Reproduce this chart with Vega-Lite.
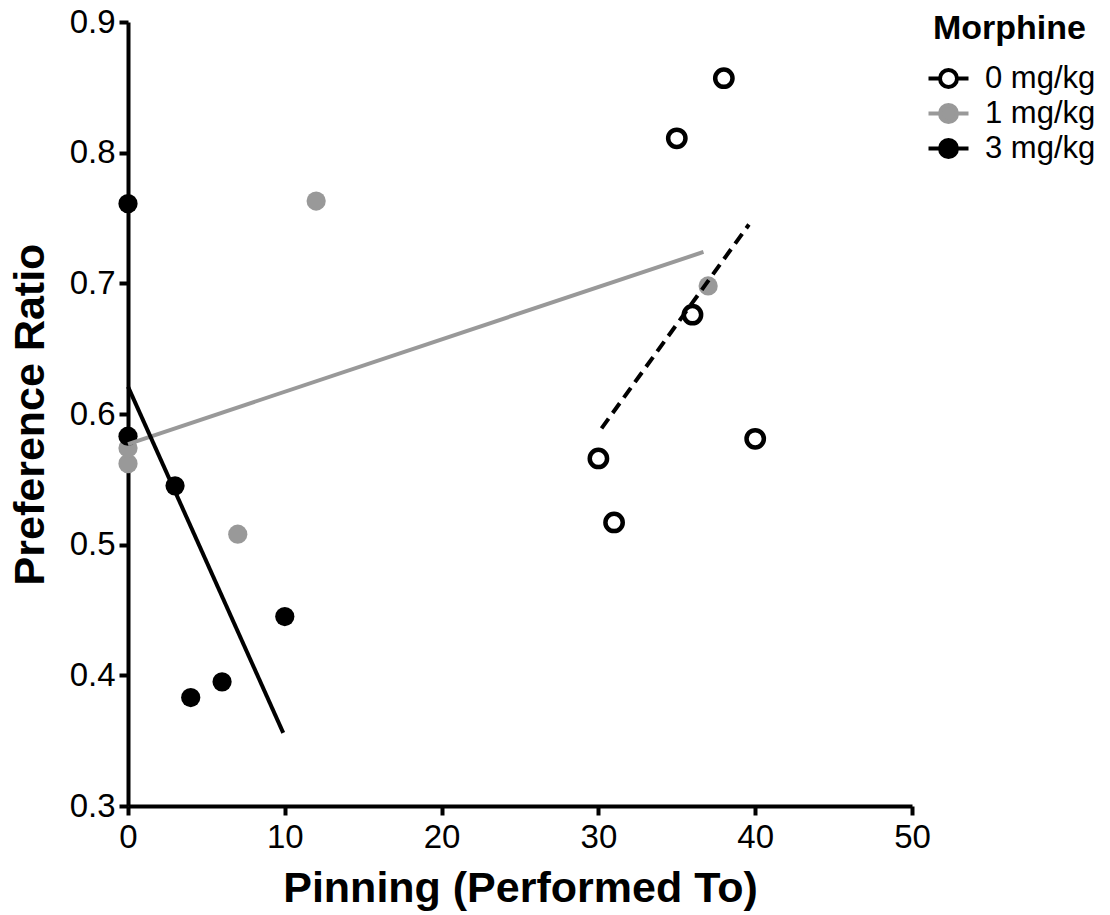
{
  "$schema": "https://vega.github.io/schema/vega-lite/v6.json",
  "width": 784,
  "height": 784,
  "autosize": {"type": "none"},
  "padding": {"left": 128, "top": 22, "right": 198, "bottom": 109},
  "background": "white",
  "config": {
    "view": {"stroke": null},
    "font": "Liberation Sans",
    "axis": {
      "domainColor": "black",
      "domainWidth": 4,
      "tickColor": "black",
      "tickWidth": 4,
      "tickSize": 9,
      "labelFontSize": 33,
      "labelColor": "black",
      "labelFont": "Liberation Sans",
      "titleFont": "Liberation Sans",
      "titleFontSize": 43,
      "titleFontWeight": "bold",
      "titleColor": "black",
      "grid": false
    },
    "legend": {
      "orient": "none",
      "legendX": 805,
      "legendY": -10,
      "padding": 0,
      "titleFont": "Liberation Sans",
      "labelFont": "Liberation Sans",
      "titleFontSize": 34,
      "titleFontWeight": "bold",
      "titleColor": "black",
      "labelFontSize": 31,
      "labelColor": "black",
      "symbolSize": 400,
      "symbolStrokeWidth": 4,
      "symbolType": "M-2,0L-0.85,0M0.85,0L2,0M-0.85,0A0.85,0.85,0,1,1,0.85,0A0.85,0.85,0,1,1,-0.85,0Z",
      "rowPadding": 2,
      "titlePadding": 17,
      "labelOffset": 21
    }
  },
  "datasets": {
    "points": [
      {"dose": "0 mg/kg", "pinning": 30, "pref": 0.566},
      {"dose": "0 mg/kg", "pinning": 31, "pref": 0.517},
      {"dose": "0 mg/kg", "pinning": 35, "pref": 0.811},
      {"dose": "0 mg/kg", "pinning": 36, "pref": 0.676},
      {"dose": "0 mg/kg", "pinning": 38, "pref": 0.857},
      {"dose": "0 mg/kg", "pinning": 40, "pref": 0.581},
      {"dose": "1 mg/kg", "pinning": 0, "pref": 0.562},
      {"dose": "1 mg/kg", "pinning": 0, "pref": 0.574},
      {"dose": "1 mg/kg", "pinning": 7, "pref": 0.508},
      {"dose": "1 mg/kg", "pinning": 12, "pref": 0.763},
      {"dose": "1 mg/kg", "pinning": 37, "pref": 0.698},
      {"dose": "3 mg/kg", "pinning": 0, "pref": 0.761},
      {"dose": "3 mg/kg", "pinning": 0, "pref": 0.583},
      {"dose": "3 mg/kg", "pinning": 3, "pref": 0.545},
      {"dose": "3 mg/kg", "pinning": 4, "pref": 0.383},
      {"dose": "3 mg/kg", "pinning": 6, "pref": 0.395},
      {"dose": "3 mg/kg", "pinning": 10, "pref": 0.445}
    ],
    "fits": [
      {"dose": "0 mg/kg", "pinning": 30.2, "pref": 0.589},
      {"dose": "0 mg/kg", "pinning": 39.6, "pref": 0.745},
      {"dose": "1 mg/kg", "pinning": 0, "pref": 0.577},
      {"dose": "1 mg/kg", "pinning": 36.7, "pref": 0.724},
      {"dose": "3 mg/kg", "pinning": 0, "pref": 0.621},
      {"dose": "3 mg/kg", "pinning": 9.9, "pref": 0.356}
    ]
  },
  "encoding": {
    "x": {
      "field": "pinning",
      "type": "quantitative",
      "scale": {"domain": [0, 50], "nice": false, "zero": false},
      "axis": {"values": [0, 10, 20, 30, 40, 50], "labelPadding": 6, "titlePadding": 13, "labelFlush": false},
      "title": "Pinning (Performed To)"
    },
    "y": {
      "field": "pref",
      "type": "quantitative",
      "scale": {"domain": [0.3, 0.9], "nice": false, "zero": false},
      "axis": {"values": [0.3, 0.4, 0.5, 0.6, 0.7, 0.8, 0.9], "format": ".1f", "labelPadding": 4, "titlePadding": 17, "labelFlush": false},
      "title": "Preference Ratio"
    }
  },
  "layer": [
    {
      "mark": {"type": "rule", "color": "black", "strokeWidth": 2.5, "strokeDash": [6, 4]},
      "encoding": {"y": {"datum": 0.5}, "x": null}
    },
    {
      "data": {"name": "points"},
      "transform": [{"filter": "datum.dose !== '0 mg/kg'"}],
      "mark": {"type": "point", "shape": "circle", "filled": true, "size": 370, "strokeWidth": 0, "opacity": 1, "clip": false},
      "encoding": {
        "fill": {
          "field": "dose",
          "type": "nominal",
          "scale": {"domain": ["0 mg/kg", "1 mg/kg", "3 mg/kg"], "range": ["white", "#999999", "black"]},
          "title": "Morphine"
        },
        "stroke": {
          "field": "dose",
          "type": "nominal",
          "scale": {"domain": ["0 mg/kg", "1 mg/kg", "3 mg/kg"], "range": ["black", "#999999", "black"]},
          "title": "Morphine"
        }
      }
    },
    {
      "data": {"name": "points"},
      "transform": [{"filter": "datum.dose === '0 mg/kg'"}],
      "mark": {"type": "point", "shape": "circle", "filled": true, "size": 300, "strokeWidth": 4.5, "opacity": 1, "clip": false},
      "encoding": {
        "fill": {"field": "dose", "type": "nominal", "title": "Morphine"},
        "stroke": {"field": "dose", "type": "nominal", "title": "Morphine"}
      }
    },
    {
      "data": {"name": "fits"},
      "transform": [{"filter": "datum.dose === '1 mg/kg'"}],
      "mark": {"type": "line", "color": "#999999", "strokeWidth": 4}
    },
    {
      "data": {"name": "fits"},
      "transform": [{"filter": "datum.dose === '3 mg/kg'"}],
      "mark": {"type": "line", "color": "black", "strokeWidth": 4}
    },
    {
      "data": {"name": "fits"},
      "transform": [{"filter": "datum.dose === '0 mg/kg'"}],
      "mark": {"type": "line", "color": "black", "strokeWidth": 4, "strokeDash": [12, 7]}
    }
  ]
}
